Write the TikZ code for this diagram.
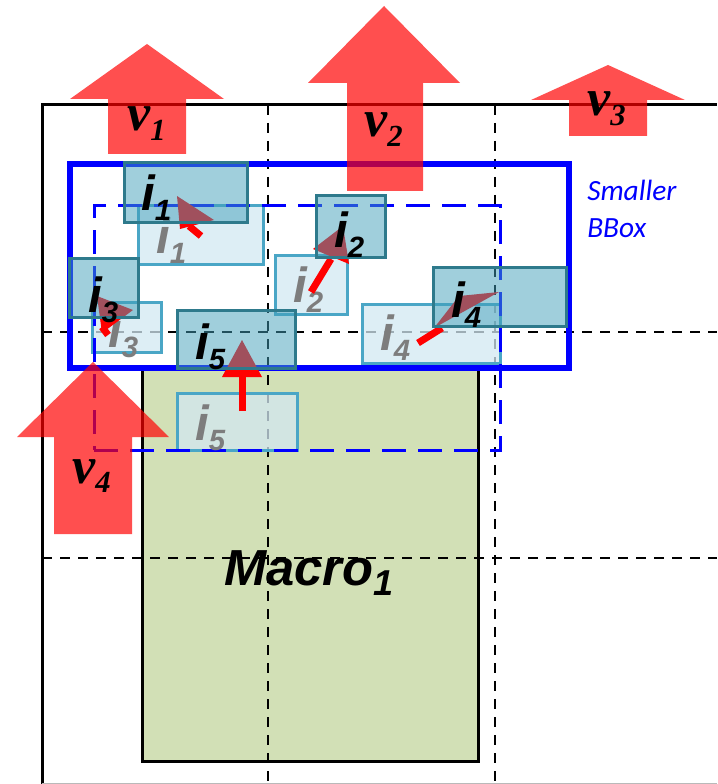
\documentclass[tikz,border=0pt]{standalone}
\usepackage{fontspec}
\setmainfont{Liberation Sans}
\newfontfamily\labfont{Liberation Sans}
\newfontfamily\nufont{Liberation Serif}
\newfontfamily\bbfont{Carlito}
\usetikzlibrary{fit}
\definecolor{darkfill}{RGB}{66,160,186}
\definecolor{darkedge}{RGB}{46,122,140}
\definecolor{lightfill}{RGB}{210,232,242}
\definecolor{lightedge}{RGB}{74,166,198}
\definecolor{macrofill}{RGB}{210,224,182}
\definecolor{labgray}{RGB}{125,125,125}
\newcommand\ilab[1]{{\fontsize{37}{37}\selectfont\bfseries\itshape i}\raisebox{-7.5pt}{\fontsize{22}{22}\selectfont\bfseries\itshape #1}}
\newcommand\nulab[1]{{\nufont\bfseries\itshape\fontsize{39}{39}\selectfont ν}\raisebox{-7pt}{\nufont\bfseries\itshape\fontsize{23}{23}\selectfont #1}}
\begin{document}
\begin{tikzpicture}[x=0.75pt,y=-0.75pt,
  gridline/.style={line width=1.5pt, dash pattern=on 7.5pt off 6pt},
  framel/.style={line width=2.25pt},
  macrobox/.style={draw=black, line width=2.25pt, fill=macrofill, inner sep=0pt},
  bluebox/.style={draw=blue, line width=4.5pt, inner sep=0pt},
  bluedash/.style={draw=blue, line width=2.25pt, dash pattern=on 18pt off 9pt, inner sep=0pt},
  darkbox/.style={draw=darkedge, line width=2.25pt, fill=darkfill, fill opacity=0.5, inner sep=0pt},
  lightbox/.style={draw=lightedge, line width=2.25pt, fill=lightfill, fill opacity=0.75, inner sep=0pt},
  shaft/.style={draw=red, line width=5.25pt},
  headtri/.style={fill=red},
  bigarrow/.style={fill=red, fill opacity=0.69},
  lab/.style={inner sep=0pt, anchor=base west, font=\labfont},
  nul/.style={inner sep=0pt, anchor=base west},
]
\useasboundingbox (0,0) rectangle (717,784);

% macro block
\node[macrobox, fit={(142,366) (478,761)}] (macro) {};
\node[lab] (mlab) at (224,585) {\fontsize{38}{38}\selectfont\bfseries\itshape Macro\raisebox{-8pt}{\fontsize{27}{27}\selectfont 1}};

% grid and frame
\draw[gridline] (268,105) -- (268,784);
\draw[gridline] (495,105) -- (495,784);
\draw[gridline] (42,332) -- (717,332);
\draw[gridline] (42,558) -- (717,558);
\draw[framel] (42,784) -- (42,105) -- (717,105);
\draw[gray!55, line width=0.75pt] (42,783.5) -- (717,783.5);

% bounding boxes
\node[bluebox, fit={(70,164) (569,368)}] (bbox) {};

% light (initial) boxes
\node[lightbox, fit={(138,206) (263,264)}] (l1) {};
\node[lightbox, fit={(275,255) (347,314)}] (l2) {};
\node[lightbox, fit={(92,302) (161,352)}] (l3) {};
\node[lightbox, fit={(362,304) (500,363)}] (l4) {};
\node[lightbox, fit={(177,393) (297,450)}] (l5) {};

\node[bluedash, fit={(94,206) (500,450)}] (sbox) {};

% gray labels
\node[lab, text=labgray] (tl1) at (156,253) {\ilab{1}};
\node[lab, text=labgray] (tl2) at (293,302) {\ilab{2}};
\node[lab, text=labgray] (tl3) at (108,347) {\ilab{3}};
\node[lab, text=labgray] (tl4) at (380,350) {\ilab{4}};
\node[lab, text=labgray] (tl5) at (195,440) {\ilab{5}};

% movement arrows
\coordinate (s1) at (201,236); \coordinate (e1) at (189,226);
\coordinate (s2) at (311,292); \coordinate (e2) at (331,259);
\coordinate (s3) at (108,335); \coordinate (e3) at (102,327);
\coordinate (s4) at (418,343); \coordinate (e4) at (442,328);
\coordinate (s5) at (242,411); \coordinate (e5) at (242,376);
\draw[shaft] (s1) -- (e1);
\draw[shaft] (s2) -- (e2);
\draw[shaft] (s3) -- (e3);
\draw[shaft] (s4) -- (e4);
\draw[shaft] (s5) -- (e5);
\fill[headtri] (177,196) -- (214,220) -- (180,229) -- cycle;
\fill[headtri] (343,226) -- (313,249) -- (349,264) -- cycle;
\fill[headtri] (97,296) -- (133,310) -- (102,333) -- cycle;
\fill[headtri] (434,328) -- (459,296) -- (499,292) -- cycle;
\fill[headtri] (242,340) -- (222,377) -- (262,377) -- cycle;

% dark (legalized) boxes
\node[darkbox, fit={(124,163) (247,222)}] (d1) {};
\node[darkbox, fit={(316,196) (385,257)}] (d2) {};
\node[darkbox, fit={(69,258) (138,317)}] (d3) {};
\node[darkbox, fit={(433,267) (566,326)}] (d4) {};
\node[darkbox, fit={(177,310) (295,368)}] (d5) {};

\node[lab] (td1) at (141,210) {\ilab{1}};
\node[lab] (td2) at (334,247) {\ilab{2}};
\node[lab] (td3) at (88,312) {\ilab{3}};
\node[lab] (td4) at (451,317) {\ilab{4}};
\node[lab] (td5) at (195,359) {\ilab{5}};

% big block arrows
\fill[bigarrow] (147,44) -- (224,99) -- (186,99) -- (186,154) -- (108,154) -- (108,99) -- (70,99) -- cycle;
\fill[bigarrow] (384,6) -- (460,83) -- (423,83) -- (423,191) -- (347,191) -- (347,83) -- (308,83) -- cycle;
\fill[bigarrow] (608,65) -- (685,100) -- (647,100) -- (647,136) -- (569,136) -- (569,100) -- (531,100) -- cycle;
\fill[bigarrow] (93,362) -- (169,437) -- (132,437) -- (132,534) -- (54,534) -- (54,437) -- (17,437) -- cycle;

\node[nul] (n1) at (127,131) {\nulab{1}};
\node[nul] (n2) at (364,137) {\nulab{2}};
\node[nul] (n3) at (587,116) {\nulab{3}};
\node[nul] (n4) at (72,483) {\nulab{4}};

% caption
\node[inner sep=0pt, anchor=base west, text=blue] (sm1) at (587,200) {\bbfont\itshape\fontsize{22}{22}\selectfont Smaller};
\node[inner sep=0pt, anchor=base west, text=blue] (sm2) at (587,237) {\bbfont\itshape\fontsize{22}{22}\selectfont BBox};
\end{tikzpicture}
\end{document}
